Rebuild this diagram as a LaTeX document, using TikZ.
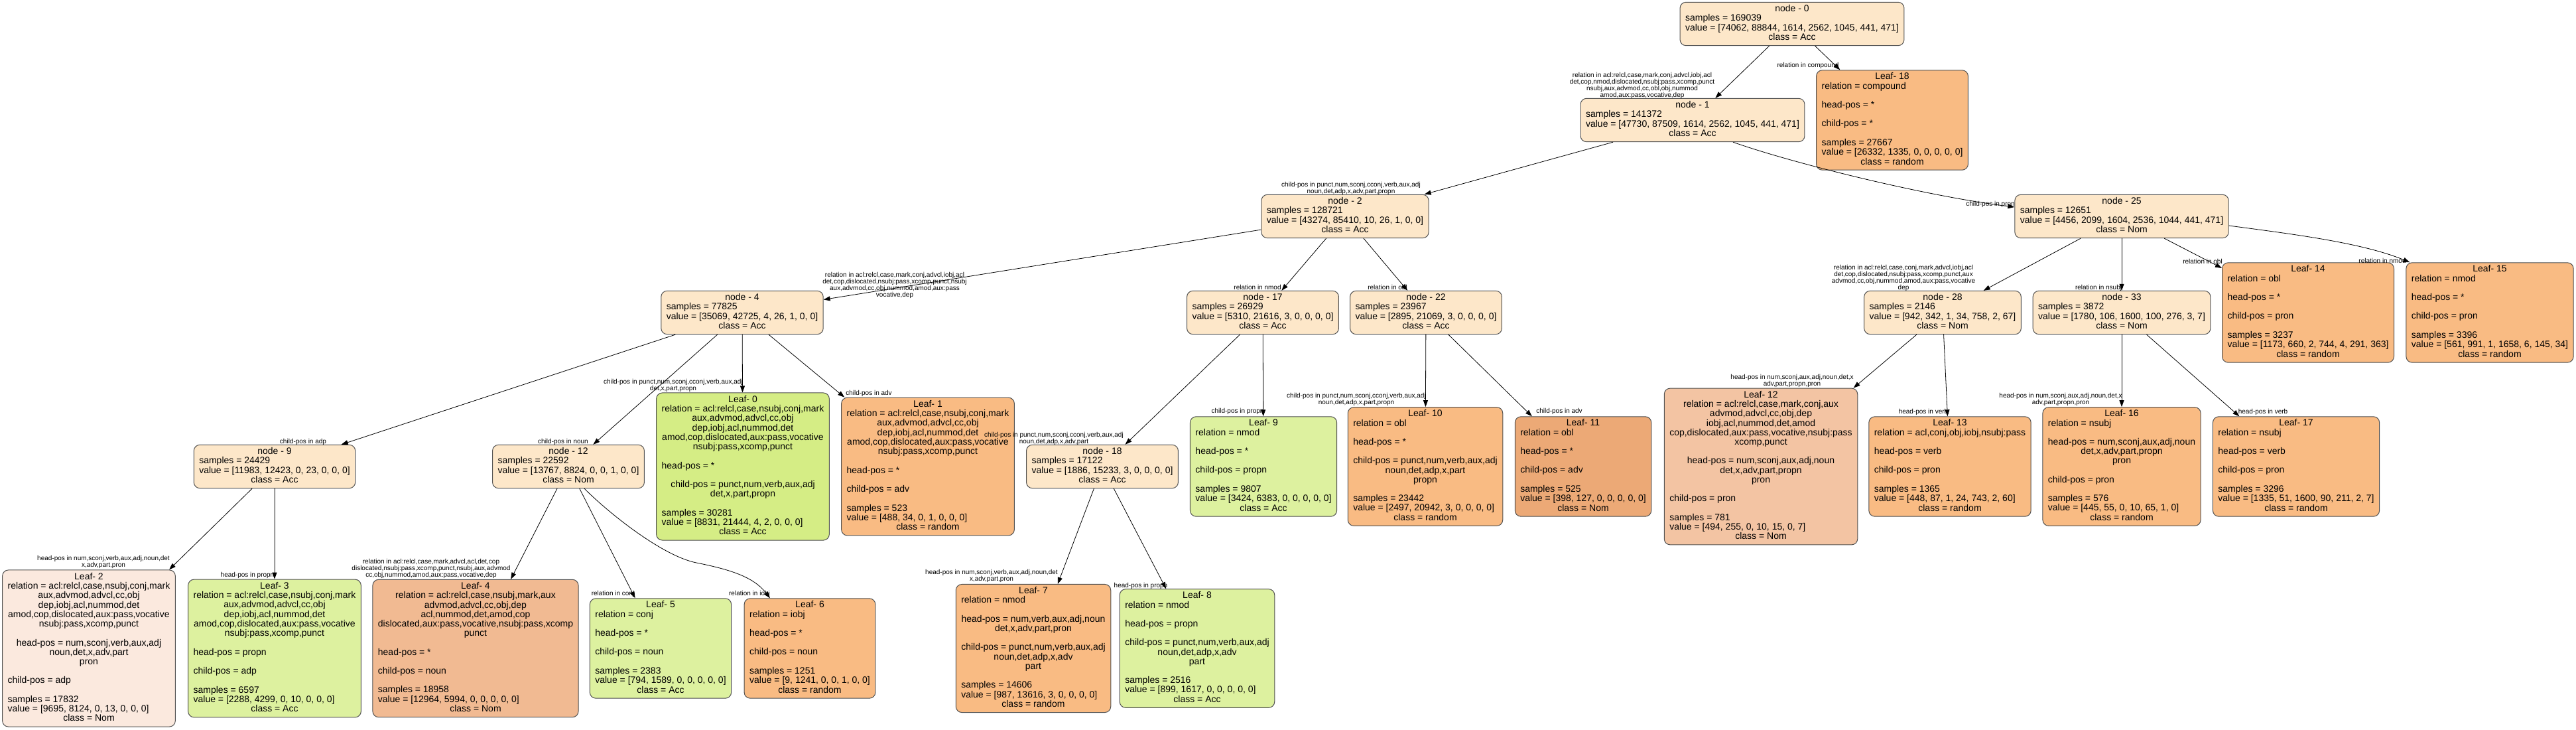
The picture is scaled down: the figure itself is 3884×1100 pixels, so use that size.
\documentclass[tikz,border=0pt]{standalone}
\usepackage{fontspec}
\setmainfont{Liberation Sans}
\usetikzlibrary{arrows.meta}
\definecolor{cInt}{RGB}{253,231,201}
\definecolor{cRand}{RGB}{249,187,131}
\definecolor{cAcc}{RGB}{221,241,159}
\definecolor{cAccS}{RGB}{213,237,133}
\definecolor{cNomP}{RGB}{251,233,222}
\definecolor{cNomF}{RGB}{241,186,146}
\definecolor{cNomM}{RGB}{243,196,163}
\definecolor{cNomD}{RGB}{236,169,118}
\definecolor{cBord}{RGB}{80,80,80}
\newcommand{\Cn}[1]{\multicolumn{1}{@{}c@{}}{#1}}
\newcommand{\Tb}[1]{\begin{tabular}{@{}l@{}}#1\end{tabular}}
\tikzset{
  box/.style={draw=cBord, line width=1pt, rounded corners=9pt, inner xsep=8pt, inner ysep=4pt, font=\fontsize{14}{14}\selectfont},
  inode/.style={box, fill=cInt},
  lrand/.style={box, fill=cRand},
  lacc/.style={box, fill=cAcc},
  laccs/.style={box, fill=cAccS},
  lnomp/.style={box, fill=cNomP},
  lnomf/.style={box, fill=cNomF},
  lnomm/.style={box, fill=cNomM},
  lnomd/.style={box, fill=cNomD},
  elab/.style={font=\fontsize{10}{10}\selectfont, align=center, inner sep=0pt},
  edge/.style={draw=black, line width=0.8pt, -{Triangle[length=10pt,width=7pt]}}
}
\begin{document}
\begin{tikzpicture}[x=1pt,y=1pt]
\useasboundingbox (0,0) rectangle (3884,-1100);
% ---------- internal nodes ----------
\node[inode] (n0) at (2702,-36) {\Tb{\Cn{node - 0}\\ samples = 169039\\ value = [74062, 88844, 1614, 2562, 1045, 441, 471]\\ \Cn{class = Acc}}};
\node[inode] (n1) at (2552,-181) {\Tb{\Cn{node - 1}\\ samples = 141372\\ value = [47730, 87509, 1614, 2562, 1045, 441, 471]\\ \Cn{class = Acc}}};
\node[inode] (n2) at (2028,-326) {\Tb{\Cn{node - 2}\\ samples = 128721\\ value = [43274, 85410, 10, 26, 1, 0, 0]\\ \Cn{class = Acc}}};
\node[inode] (n25) at (3199,-326) {\Tb{\Cn{node - 25}\\ samples = 12651\\ value = [4456, 2099, 1604, 2536, 1044, 441, 471]\\ \Cn{class = Nom}}};
\node[inode] (n4) at (1119,-471) {\Tb{\Cn{node - 4}\\ samples = 77825\\ value = [35069, 42725, 4, 26, 1, 0, 0]\\ \Cn{class = Acc}}};
\node[inode] (n17) at (1904,-471) {\Tb{\Cn{node - 17}\\ samples = 26929\\ value = [5310, 21616, 3, 0, 0, 0, 0]\\ \Cn{class = Acc}}};
\node[inode] (n22) at (2150,-471) {\Tb{\Cn{node - 22}\\ samples = 23967\\ value = [2895, 21069, 3, 0, 0, 0, 0]\\ \Cn{class = Acc}}};
\node[inode] (n28) at (2929,-471) {\Tb{\Cn{node - 28}\\ samples = 2146\\ value = [942, 342, 1, 34, 758, 2, 67]\\ \Cn{class = Nom}}};
\node[inode] (n33) at (3199,-471) {\Tb{\Cn{node - 33}\\ samples = 3872\\ value = [1780, 106, 1600, 100, 276, 3, 7]\\ \Cn{class = Nom}}};
\node[inode] (n9) at (414,-703) {\Tb{\Cn{node - 9}\\ samples = 24429\\ value = [11983, 12423, 0, 23, 0, 0, 0]\\ \Cn{class = Acc}}};
\node[inode] (n12) at (857,-703) {\Tb{\Cn{node - 12}\\ samples = 22592\\ value = [13767, 8824, 0, 0, 1, 0, 0]\\ \Cn{class = Nom}}};
\node[inode] (n18) at (1662,-703) {\Tb{\Cn{node - 18}\\ samples = 17122\\ value = [1886, 15233, 3, 0, 0, 0, 0]\\ \Cn{class = Acc}}};
% ---------- leaves ----------
\node[lrand] (L18) at (2853,-181) {\Tb{\Cn{Leaf- 18}\\ relation = compound\\ \\ head-pos = *\\ \\ child-pos = *\\ \\ samples = 27667\\ value = [26332, 1335, 0, 0, 0, 0, 0]\\ \Cn{class = random}}};
\node[lrand] (L14) at (3480,-471) {\Tb{\Cn{Leaf- 14}\\ relation = obl\\ \\ head-pos = *\\ \\ child-pos = pron\\ \\ samples = 3237\\ value = [1173, 660, 2, 744, 4, 291, 363]\\ \Cn{class = random}}};
\node[lrand] (L15) at (3754,-471) {\Tb{\Cn{Leaf- 15}\\ relation = nmod\\ \\ head-pos = *\\ \\ child-pos = pron\\ \\ samples = 3396\\ value = [561, 991, 1, 1658, 6, 145, 34]\\ \Cn{class = random}}};
\node[laccs] (L0) at (1120,-703) {\Tb{\Cn{Leaf- 0}\\ \Cn{relation = acl:relcl,case,nsubj,conj,mark}\\ \Cn{aux,advmod,advcl,cc,obj}\\ \Cn{dep,iobj,acl,nummod,det}\\ \Cn{amod,cop,dislocated,aux:pass,vocative}\\ \Cn{nsubj:pass,xcomp,punct}\\ \\ head-pos = *\\ \\ \Cn{child-pos = punct,num,verb,aux,adj}\\ \Cn{det,x,part,propn}\\ \\ samples = 30281\\ value = [8831, 21444, 4, 2, 0, 0, 0]\\ \Cn{class = Acc}}};
\node[lrand] (L1) at (1399,-703) {\Tb{\Cn{Leaf- 1}\\ \Cn{relation = acl:relcl,case,nsubj,conj,mark}\\ \Cn{aux,advmod,advcl,cc,obj}\\ \Cn{dep,iobj,acl,nummod,det}\\ \Cn{amod,cop,dislocated,aux:pass,vocative}\\ \Cn{nsubj:pass,xcomp,punct}\\ \\ head-pos = *\\ \\ child-pos = adv\\ \\ samples = 523\\ value = [488, 34, 0, 1, 0, 0, 0]\\ \Cn{class = random}}};
\node[lacc] (L9) at (1905,-703) {\Tb{\Cn{Leaf- 9}\\ relation = nmod\\ \\ head-pos = *\\ \\ child-pos = propn\\ \\ samples = 9807\\ value = [3424, 6383, 0, 0, 0, 0, 0]\\ \Cn{class = Acc}}};
\node[lrand] (L10) at (2149,-703) {\Tb{\Cn{Leaf- 10}\\ relation = obl\\ \\ head-pos = *\\ \\ \Cn{child-pos = punct,num,verb,aux,adj}\\ \Cn{noun,det,adp,x,part}\\ \Cn{propn}\\ \\ samples = 23442\\ value = [2497, 20942, 3, 0, 0, 0, 0]\\ \Cn{class = random}}};
\node[lnomd] (L11) at (2387,-703) {\Tb{\Cn{Leaf- 11}\\ relation = obl\\ \\ head-pos = *\\ \\ child-pos = adv\\ \\ samples = 525\\ value = [398, 127, 0, 0, 0, 0, 0]\\ \Cn{class = Nom}}};
\node[lnomm] (L12) at (2655,-703) {\Tb{\Cn{Leaf- 12}\\ \Cn{relation = acl:relcl,case,mark,conj,aux}\\ \Cn{advmod,advcl,cc,obj,dep}\\ \Cn{iobj,acl,nummod,det,amod}\\ \Cn{cop,dislocated,aux:pass,vocative,nsubj:pass}\\ \Cn{xcomp,punct}\\ \\ \Cn{head-pos = num,sconj,aux,adj,noun}\\ \Cn{det,x,adv,part,propn}\\ \Cn{pron}\\ \\ child-pos = pron\\ \\ samples = 781\\ value = [494, 255, 0, 10, 15, 0, 7]\\ \Cn{class = Nom}}};
\node[lrand] (L13) at (2940,-703) {\Tb{\Cn{Leaf- 13}\\ relation = acl,conj,obj,iobj,nsubj:pass\\ \\ head-pos = verb\\ \\ child-pos = pron\\ \\ samples = 1365\\ value = [448, 87, 1, 24, 743, 2, 60]\\ \Cn{class = random}}};
\node[lrand] (L16) at (3199,-703) {\Tb{\Cn{Leaf- 16}\\ relation = nsubj\\ \\ \Cn{head-pos = num,sconj,aux,adj,noun}\\ \Cn{det,x,adv,part,propn}\\ \Cn{pron}\\ \\ child-pos = pron\\ \\ samples = 576\\ value = [445, 55, 0, 10, 65, 1, 0]\\ \Cn{class = random}}};
\node[lrand] (L17) at (3462,-703) {\Tb{\Cn{Leaf- 17}\\ relation = nsubj\\ \\ head-pos = verb\\ \\ child-pos = pron\\ \\ samples = 3296\\ value = [1335, 51, 1600, 90, 211, 2, 7]\\ \Cn{class = random}}};
\node[lnomp] (L2) at (134,-977) {\Tb{\Cn{Leaf- 2}\\ \Cn{relation = acl:relcl,case,nsubj,conj,mark}\\ \Cn{aux,advmod,advcl,cc,obj}\\ \Cn{dep,iobj,acl,nummod,det}\\ \Cn{amod,cop,dislocated,aux:pass,vocative}\\ \Cn{nsubj:pass,xcomp,punct}\\ \\ \Cn{head-pos = num,sconj,verb,aux,adj}\\ \Cn{noun,det,x,adv,part}\\ \Cn{pron}\\ \\ child-pos = adp\\ \\ samples = 17832\\ value = [9695, 8124, 0, 13, 0, 0, 0]\\ \Cn{class = Nom}}};
\node[lacc] (L3) at (414,-977) {\Tb{\Cn{Leaf- 3}\\ \Cn{relation = acl:relcl,case,nsubj,conj,mark}\\ \Cn{aux,advmod,advcl,cc,obj}\\ \Cn{dep,iobj,acl,nummod,det}\\ \Cn{amod,cop,dislocated,aux:pass,vocative}\\ \Cn{nsubj:pass,xcomp,punct}\\ \\ head-pos = propn\\ \\ child-pos = adp\\ \\ samples = 6597\\ value = [2288, 4299, 0, 10, 0, 0, 0]\\ \Cn{class = Acc}}};
\node[lnomf] (L4) at (717,-977) {\Tb{\Cn{Leaf- 4}\\ \Cn{relation = acl:relcl,case,nsubj,mark,aux}\\ \Cn{advmod,advcl,cc,obj,dep}\\ \Cn{acl,nummod,det,amod,cop}\\ \Cn{dislocated,aux:pass,vocative,nsubj:pass,xcomp}\\ \Cn{punct}\\ \\ head-pos = *\\ \\ child-pos = noun\\ \\ samples = 18958\\ value = [12964, 5994, 0, 0, 0, 0, 0]\\ \Cn{class = Nom}}};
\node[lacc] (L5) at (996,-977) {\Tb{\Cn{Leaf- 5}\\ relation = conj\\ \\ head-pos = *\\ \\ child-pos = noun\\ \\ samples = 2383\\ value = [794, 1589, 0, 0, 0, 0, 0]\\ \Cn{class = Acc}}};
\node[lrand] (L6) at (1221,-977) {\Tb{\Cn{Leaf- 6}\\ relation = iobj\\ \\ head-pos = *\\ \\ child-pos = noun\\ \\ samples = 1251\\ value = [9, 1241, 0, 0, 1, 0, 0]\\ \Cn{class = random}}};
\node[lrand] (L7) at (1558,-977) {\Tb{\Cn{Leaf- 7}\\ relation = nmod\\ \\ \Cn{head-pos = num,verb,aux,adj,noun}\\ \Cn{det,x,adv,part,pron}\\ \\ \Cn{child-pos = punct,num,verb,aux,adj}\\ \Cn{noun,det,adp,x,adv}\\ \Cn{part}\\ \\ samples = 14606\\ value = [987, 13616, 3, 0, 0, 0, 0]\\ \Cn{class = random}}};
\node[lacc] (L8) at (1805,-977) {\Tb{\Cn{Leaf- 8}\\ relation = nmod\\ \\ head-pos = propn\\ \\ \Cn{child-pos = punct,num,verb,aux,adj}\\ \Cn{noun,det,adp,x,adv}\\ \Cn{part}\\ \\ samples = 2516\\ value = [899, 1617, 0, 0, 0, 0, 0]\\ \Cn{class = Acc}}};
% ---------- connectors ----------
\draw[edge] (n0) -- (n1);
\draw[edge] (n0) -- (L18);
\draw[edge] (n1) -- (n2);
\draw[edge] ([xshift=61pt]n1.south) .. controls (2700,-245) and (2900,-295) .. ([yshift=14pt]n25.west);
\draw[edge] (n2) -- (n4);
\draw[edge] (n2) -- (n17);
\draw[edge] (n2) -- (n22);
\draw[edge] (n25) -- (n28);
\draw[edge] (n25) -- (n33);
\draw[edge] (n25) -- (L14);
\draw[edge] ([yshift=-14pt]n25.east) .. controls (3450,-352) and (3560,-365) .. ([xshift=6pt]L15.north west);
\draw[edge] (n4) -- (n9);
\draw[edge] (n4) -- (n12);
\draw[edge] (n4) -- (L0);
\draw[edge] (n4) -- (L1);
\draw[edge] (n17) -- (n18);
\draw[edge] (n17) -- (L9);
\draw[edge] (n22) -- (L10);
\draw[edge] (n22) -- (L11);
\draw[edge] (n28) -- (L12);
\draw[edge] (n28) -- (L13);
\draw[edge] (n33) -- (L16);
\draw[edge] (n33) -- (L17);
\draw[edge] (n9) -- (L2);
\draw[edge] (n9) -- (L3);
\draw[edge] (n12) -- (L4);
\draw[edge] (n12) -- (L5);
\draw[edge] ([xshift=24pt]n12.south) .. controls (921,-776) and (1000,-838) .. (1050,-848) .. controls (1100,-858) and (1136,-869) .. ([xshift=-60pt]L6.north);
\draw[edge] (n18) -- (L7);
\draw[edge] (n18) -- (L8);
% ---------- connector labels ----------
\node[elab] (e01) at (2476,-129) {relation in acl:relcl,case,mark,conj,advcl,iobj,acl\\det,cop,nmod,dislocated,nsubj:pass,xcomp,punct\\nsubj,aux,advmod,cc,obl,obj,nummod\\amod,aux:pass,vocative,dep};
\node[elab] (e018) at (2726,-99) {relation in compound};
\node[elab] (e12) at (2037,-284) {child-pos in punct,num,sconj,cconj,verb,aux,adj\\noun,det,adp,x,adv,part,propn};
\node[elab] (e125) at (3001,-308) {child-pos in pron};
\node[elab] (e24) at (1349,-430) {relation in acl:relcl,case,mark,conj,advcl,iobj,acl\\det,cop,dislocated,nsubj:pass,xcomp,punct,nsubj\\aux,advmod,cc,obj,nummod,amod,aux:pass\\vocative,dep};
\node[elab] (e217) at (1896,-433) {relation in nmod};
\node[elab] (e222) at (2092,-433) {relation in obl};
\node[elab] (e2528) at (2870,-419) {relation in acl:relcl,case,conj,mark,advcl,iobj,acl\\det,cop,dislocated,nsubj:pass,xcomp,punct,aux\\advmod,cc,obj,nummod,amod,aux:pass,vocative\\dep};
\node[elab] (e2533) at (3164,-434) {relation in nsubj};
\node[elab] (e2514) at (3321,-394) {relation in obl};
\node[elab] (e2515) at (3592,-393) {relation in nmod};
\node[elab] (e49) at (457,-666) {child-pos in adp};
\node[elab] (e412) at (849,-666) {child-pos in noun};
\node[elab] (e40) at (1015,-581) {child-pos in punct,num,sconj,cconj,verb,aux,adj\\det,x,part,propn};
\node[elab] (e41) at (1310,-593) {child-pos in adv};
\node[elab] (e1718) at (1589,-661) {child-pos in punct,num,sconj,cconj,verb,aux,adj\\noun,det,adp,x,adv,part};
\node[elab] (e179) at (1866,-620) {child-pos in propn};
\node[elab] (e2210) at (2045,-602) {child-pos in punct,num,sconj,cconj,verb,aux,adj\\noun,det,adp,x,part,propn};
\node[elab] (e2211) at (2351,-620) {child-pos in adv};
\node[elab] (e2812) at (2702,-574) {head-pos in num,sconj,aux,adj,noun,det,x\\adv,part,propn,pron};
\node[elab] (e2813) at (2900,-621) {head-pos in verb};
\node[elab] (e3316) at (3107,-602) {head-pos in num,sconj,aux,adj,noun,det,x\\adv,part,propn,pron};
\node[elab] (e3317) at (3412,-621) {head-pos in verb};
\node[elab] (e92) at (156,-847) {head-pos in num,sconj,verb,aux,adj,noun,det\\x,adv,part,pron};
\node[elab] (e93) at (373,-867) {head-pos in propn};
\node[elab] (e124) at (650,-857) {relation in acl:relcl,case,mark,advcl,acl,det,cop\\dislocated,nsubj:pass,xcomp,punct,nsubj,aux,advmod\\cc,obj,nummod,amod,aux:pass,vocative,dep};
\node[elab] (e125b) at (924,-895) {relation in conj};
\node[elab] (e126) at (1130,-895) {relation in iobj};
\node[elab] (e187) at (1495,-868) {head-pos in num,sconj,verb,aux,adj,noun,det\\x,adv,part,pron};
\node[elab] (e188) at (1720,-883) {head-pos in propn};
\end{tikzpicture}
\end{document}
